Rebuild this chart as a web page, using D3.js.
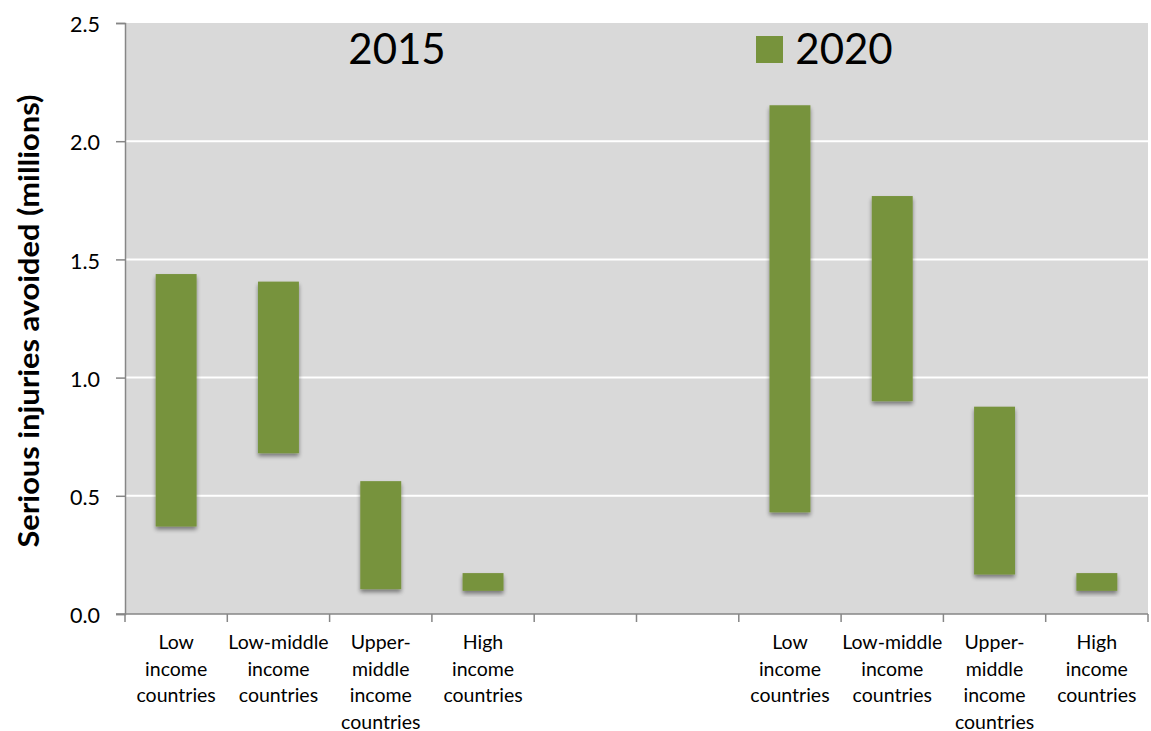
<!DOCTYPE html>
<html>
<head>
<meta charset="utf-8">
<script src="https://cdn.jsdelivr.net/npm/d3@7"></script>
<style>
  html, body { margin: 0; padding: 0; background: #fff; }
  svg { display: block; font-family: Lato, "Open Sans", sans-serif; }
</style>
</head>
<body>
<svg id="chart" width="1151" height="731"></svg>
<script>
// ---- data ----
const slotLabels = [
  "Low\nincome\ncountries",
  "Low-middle\nincome\ncountries",
  "Upper-\nmiddle\nincome\ncountries",
  "High\nincome\ncountries",
  "", "",
  "Low\nincome\ncountries",
  "Low-middle\nincome\ncountries",
  "Upper-\nmiddle\nincome\ncountries",
  "High\nincome\ncountries"
];
const barSlots = [0, 1, 2, 3, 6, 7, 8, 9];
const lowValues  = [0.37, 0.68, 0.105, 0.098, 0.43, 0.90, 0.167, 0.098];
const highValues = [1.438, 1.406, 0.562, 0.173, 2.152, 1.768, 0.877, 0.173];
const yTicks = [0, 0.5, 1.0, 1.5, 2.0, 2.5];
const groupTitles = ["2015", "2020"];
const yTitle = "Serious injuries avoided (millions)";

// ---- layout ----
const svg = d3.select("#chart");
const m = { left: 125, right: 1148, top: 23, bottom: 614 };
const green = "#77933c";
const axisColor = "#868686";

const x = d3.scaleBand().domain(d3.range(slotLabels.length)).range([m.left, m.right]).padding(0);
const y = d3.scaleLinear().domain([0, 2.5]).range([m.bottom, m.top]);

const defs = svg.append("defs");
const f = defs.append("filter").attr("id", "shadow").attr("x", "-30%").attr("y", "-30%").attr("width", "160%").attr("height", "160%");
f.append("feGaussianBlur").attr("in", "SourceAlpha").attr("stdDeviation", 2.2).attr("result", "b");
f.append("feOffset").attr("in", "b").attr("dx", 0).attr("dy", 3).attr("result", "o");
f.append("feComponentTransfer").attr("in", "o").attr("result", "o2")
  .append("feFuncA").attr("type", "linear").attr("slope", 0.45);
const mg = f.append("feMerge");
mg.append("feMergeNode").attr("in", "o2");
mg.append("feMergeNode").attr("in", "SourceGraphic");

// plot background
svg.append("rect").attr("x", m.left).attr("y", m.top)
  .attr("width", m.right - m.left).attr("height", m.bottom - m.top).attr("fill", "#d9d9d9");

// gridlines
svg.append("g").selectAll("line").data(yTicks.filter(d => d > 0 && d < 2.5)).join("line")
  .attr("x1", m.left).attr("x2", m.right)
  .attr("y1", d => y(d)).attr("y2", d => y(d))
  .attr("stroke", "#ffffff").attr("stroke-width", 2);

// bars
svg.append("g").selectAll("rect").data(barSlots).join("rect")
  .attr("x", (s) => x(s) + x.bandwidth() * 0.3)
  .attr("width", x.bandwidth() * 0.4)
  .attr("y", (s, i) => y(highValues[i]))
  .attr("height", (s, i) => y(lowValues[i]) - y(highValues[i]))
  .attr("fill", green)
  .attr("filter", "url(#shadow)");

// y axis
const yAxis = svg.append("g").attr("transform", `translate(${m.left},0)`)
  .call(d3.axisLeft(y).tickValues(yTicks).tickFormat(d3.format(".1f")).tickSize(9).tickPadding(16));
yAxis.select(".domain").attr("stroke", axisColor).attr("stroke-width", 1.5);
yAxis.selectAll(".tick line").attr("stroke", axisColor).attr("stroke-width", 1.5);
yAxis.selectAll(".tick text").attr("font-size", 21.5).attr("fill", "#000").attr("font-family", "Lato, sans-serif")
  .attr("dy", "0.4em");

// x axis line and ticks at band edges
const xg = svg.append("g");
xg.append("line").attr("x1", m.left - 9).attr("x2", m.right).attr("y1", m.bottom).attr("y2", m.bottom)
  .attr("stroke", axisColor).attr("stroke-width", 1.5);
const edges = d3.range(slotLabels.length + 1).map(i => i < slotLabels.length ? x(i) : m.right);
xg.selectAll("line.t").data(edges).join("line").attr("class", "t")
  .attr("x1", d => d).attr("x2", d => d).attr("y1", m.bottom).attr("y2", m.bottom + 8)
  .attr("stroke", axisColor).attr("stroke-width", 1.5);

// category labels
const lab = svg.append("g").selectAll("text").data(slotLabels.map((l, i) => ({ l, i }))).join("text")
  .attr("text-anchor", "middle").attr("font-size", 19.5).attr("fill", "#000")
  .attr("x", d => x(d.i) + x.bandwidth() / 2).attr("y", 649);
lab.selectAll("tspan").data(d => d.l ? d.l.split("\n").map(t => ({ t, x: x(d.i) + x.bandwidth() / 2 })) : []).join("tspan")
  .attr("x", d => d.x).attr("dy", (d, j) => j === 0 ? 0 : 26.5).text(d => d.t);

// group titles
svg.append("text").attr("x", 397).attr("y", 64).attr("text-anchor", "middle")
  .attr("font-size", 42).attr("fill", "#000").text(groupTitles[0]);
svg.append("rect").attr("x", 756).attr("y", 36).attr("width", 27).attr("height", 27).attr("fill", green);
svg.append("text").attr("x", 844).attr("y", 64).attr("text-anchor", "middle")
  .attr("font-size", 42).attr("fill", "#000").text(groupTitles[1]);

// y title
svg.append("text").attr("transform", `translate(39,321) rotate(-90)`)
  .attr("text-anchor", "middle").attr("font-size", 29).attr("font-weight", "bold").attr("fill", "#000")
  .attr("textLength", 453).attr("lengthAdjust", "spacingAndGlyphs")
  .text(yTitle);
</script>
</body>
</html>
